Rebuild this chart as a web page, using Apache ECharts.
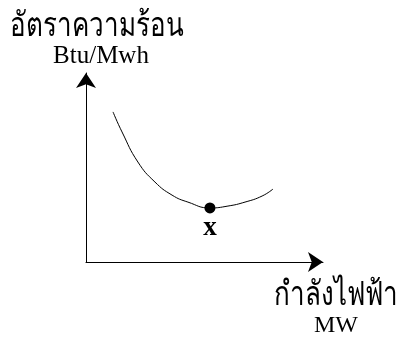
<!DOCTYPE html>
<html>
<head>
<meta charset="utf-8">
<script src="https://cdn.jsdelivr.net/npm/echarts@6/dist/echarts.min.js"></script>
<style>
  html, body { margin: 0; padding: 0; background: #fff; }
  #chart { width: 400px; height: 338px; }
</style>
</head>
<body>
<div id="chart"></div>
<script>
// curve of heat rate vs. power output (arbitrary units, 0-100 on both axes)
var curveX = [11.4, 15.2, 21.9, 29.1, 36.3, 43.0, 52.3, 59.9, 67.1, 74.3, 78.9];
var curveY = [79.4, 68.8, 52.9, 42.3, 35.4, 31.7, 28.6, 29.6, 31.7, 34.9, 38.6];
var minPoint = [52.3, 28.6];
var minLabel = 'x';

var yTitle = 'อัตราความร้อน';
var yUnit = 'Btu/Mwh';
var xTitle = 'กำลังไฟฟ้า';
var xUnit = 'MW';

var serif = "'Liberation Serif', 'DejaVu Serif', serif";

var curve = [];
for (var i = 0; i < curveX.length; i++) {
    curve.push([curveX[i], curveY[i]]);
}

var axisLine = {
    show: true,
    symbol: ['none', 'arrow'],
    symbolSize: [15, 15],
    lineStyle: { color: '#000', width: 1 }
};

var myChart = echarts.init(document.getElementById('chart'));
var option = {
    backgroundColor: '#fff',
    animation: false,
    grid: { left: 86, right: 77, top: 73, bottom: 76 },
    xAxis: {
        type: 'value', min: 0, max: 100,
        axisLine: axisLine,
        axisTick: { show: false }, axisLabel: { show: false }, splitLine: { show: false }
    },
    yAxis: {
        type: 'value', min: 0, max: 100,
        axisLine: axisLine,
        axisTick: { show: false }, axisLabel: { show: false }, splitLine: { show: false }
    },
    graphic: [
        { type: 'text', x: 10, y: 27, scaleY: 1.3,
          style: { text: yTitle, font: '26px ' + serif, fill: '#000', verticalAlign: 'middle' } },
        { type: 'text', x: 101, y: 56,
          style: { text: yUnit, font: '25px ' + serif, fill: '#000', align: 'center', verticalAlign: 'middle' } },
        { type: 'text', x: 336, y: 296, scaleY: 1.3,
          style: { text: xTitle, font: '26px ' + serif, fill: '#000', align: 'center', verticalAlign: 'middle' } },
        { type: 'text', x: 336, y: 326,
          style: { text: xUnit, font: '24px ' + serif, fill: '#000', align: 'center', verticalAlign: 'middle' } }
    ],
    series: [{
        type: 'line',
        data: curve,
        smooth: 0.5,
        symbol: 'none',
        lineStyle: { color: '#000', width: 1 }
    }, {
        type: 'scatter',
        data: [minPoint],
        symbolSize: 11,
        itemStyle: { color: '#000', opacity: 1 },
        label: {
            show: true, position: 'bottom', distance: 1,
            formatter: minLabel,
            color: '#000', fontSize: 27, fontWeight: 'bold', fontFamily: serif
        }
    }]
};
myChart.setOption(option);
</script>
</body>
</html>
